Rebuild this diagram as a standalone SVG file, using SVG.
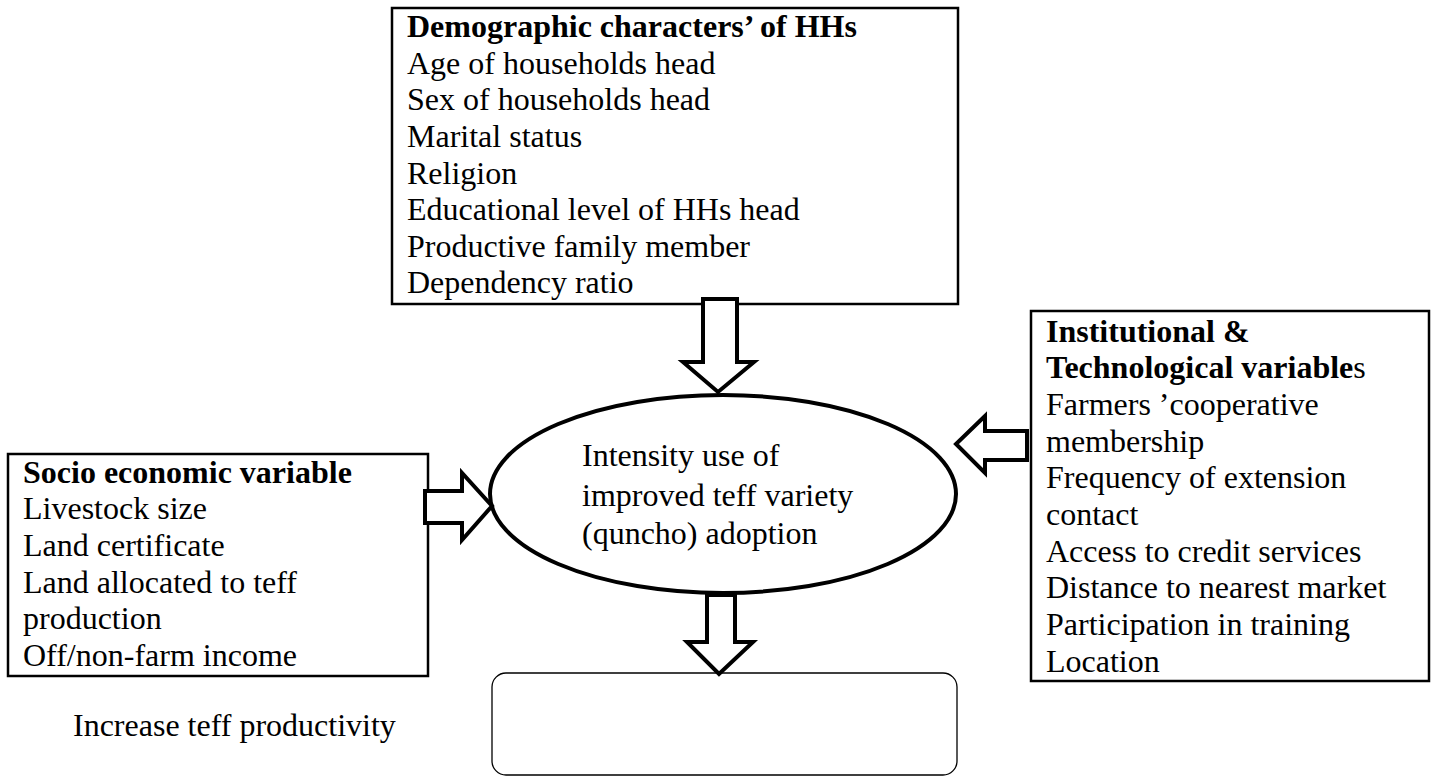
<svg xmlns="http://www.w3.org/2000/svg" width="1435" height="776" viewBox="0 0 1435 776">
<style>
.box{fill:#fff;stroke:#000;stroke-width:2.5}
.ell{fill:#fff;stroke:#000;stroke-width:4}
.arr{fill:#fff;stroke:#000;stroke-width:4;stroke-linejoin:miter}
.rr{fill:#fff;stroke:#000;stroke-width:1.3}
text{font-family:"Liberation Serif","Times New Roman",serif;font-size:32px;fill:#000}
.b{font-weight:bold}
</style>
<rect width="1435" height="776" fill="#fff"/>
<g id="demographic">
<rect class="box" x="392" y="8" width="566" height="296"/>
<text x="407" y="37" class="b">Demographic characters’ of HHs</text>
<text x="407" y="74">Age of households head</text>
<text x="407" y="110">Sex of households head</text>
<text x="407" y="147">Marital status</text>
<text x="407" y="184">Religion</text>
<text x="407" y="220">Educational level of HHs head</text>
<text x="407" y="257">Productive family member</text>
<text x="407" y="293">Dependency ratio</text>
</g>
<g id="socio">
<rect class="box" x="8" y="454" width="420" height="222"/>
<text x="23" y="483" class="b">Socio economic variable</text>
<text x="23" y="519">Livestock size</text>
<text x="23" y="556">Land certificate</text>
<text x="23" y="593">Land allocated to teff</text>
<text x="23" y="629">production</text>
<text x="23" y="666">Off/non-farm income</text>
</g>
<g id="institutional">
<rect class="box" x="1031" y="311" width="398" height="370"/>
<text x="1046" y="342" class="b">Institutional &amp;</text>
<text x="1046" y="378"><tspan class="b">Technological variable</tspan>s</text>
<text x="1046" y="415">Farmers ’cooperative</text>
<text x="1046" y="452">membership</text>
<text x="1046" y="488">Frequency of extension</text>
<text x="1046" y="525">contact</text>
<text x="1046" y="562">Access to credit services</text>
<text x="1046" y="598">Distance to nearest market</text>
<text x="1046" y="635">Participation in training</text>
<text x="1046" y="672">Location</text>
</g>
<g id="outcome">
<rect class="rr" x="492" y="673" width="465" height="102" rx="14" ry="14"/>
</g>
<g id="center">
<ellipse class="ell" cx="723" cy="494" rx="233" ry="99"/>
<text x="582" y="466">Intensity use of</text>
<text x="582" y="506">improved teff variety</text>
<text x="582" y="544">(quncho) adoption</text>
</g>
<g id="label">
<text x="73" y="736">Increase teff productivity</text>
</g>
<g id="connectors">
<polygon class="arr" points="703,299 737,299 737,362 754,362 718,392 683,362 703,362"/>
<polygon class="arr" points="1027,431 1027,460 985,460 985,473 956,444 985,416 985,431"/>
<polygon class="arr" points="425,491 462,491 462,473 492,506 462,540 462,523 425,523"/>
<polygon class="arr" points="707,595 735,595 735,642 753,642 719,674 687,642 707,642"/>
</g>
</svg>
